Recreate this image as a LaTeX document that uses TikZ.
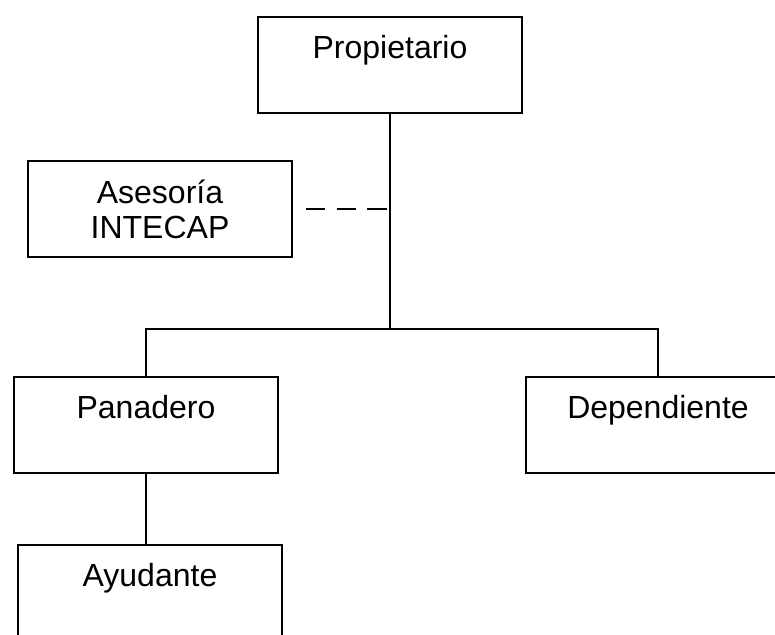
\documentclass[tikz,border=0pt]{standalone}
\usepackage{fontspec}
\setmainfont{Liberation Sans}
\usepackage{tikz}
\usetikzlibrary{positioning, calc}
\tikzset{
	orgbox/.style={draw, line width=1.5pt, inner sep=0pt, minimum width=198pt,
	  text height=31pt, text depth=41pt, font=\fontsize{24}{26.25}\selectfont}
}
\tikzset{
	advbox/.style={draw, line width=1.5pt, inner sep=0pt, minimum width=198pt,
	  minimum height=72pt, align=center, font=\fontsize{24}{26.25}\selectfont}
}

\begin{document}
\begin{tikzpicture}[x=0.75pt, y=-0.75pt, line width=1.5pt]
      \clip (0,0) rectangle (775,635);

      % boxes of the chart
      \node[orgbox] (prop) at (390,65) {Propietario};
      \node[advbox] (ases) at (160,209) {Asesoría\\INTECAP};
      \node[orgbox] (pan) at (146,425) {Panadero};
      \node[orgbox] (dep) at (658,425) {Dependiente};
      \node[orgbox] (ayu) at (150,593) {Ayudante};

      % lines between them
      \coordinate (bus) at (390,329);
      \draw (prop.south) -- (bus);
      \draw (pan.north) |- (bus) -| (dep.north);
      \draw (pan.south) -- (pan.south |- ayu.north);

      % advice line, dashed
      \draw[dash pattern=on 14.5pt off 8.5pt] ([xshift=9.75pt]ases.east) -- (ases.east -| bus);
    \end{tikzpicture}
\end{document}
